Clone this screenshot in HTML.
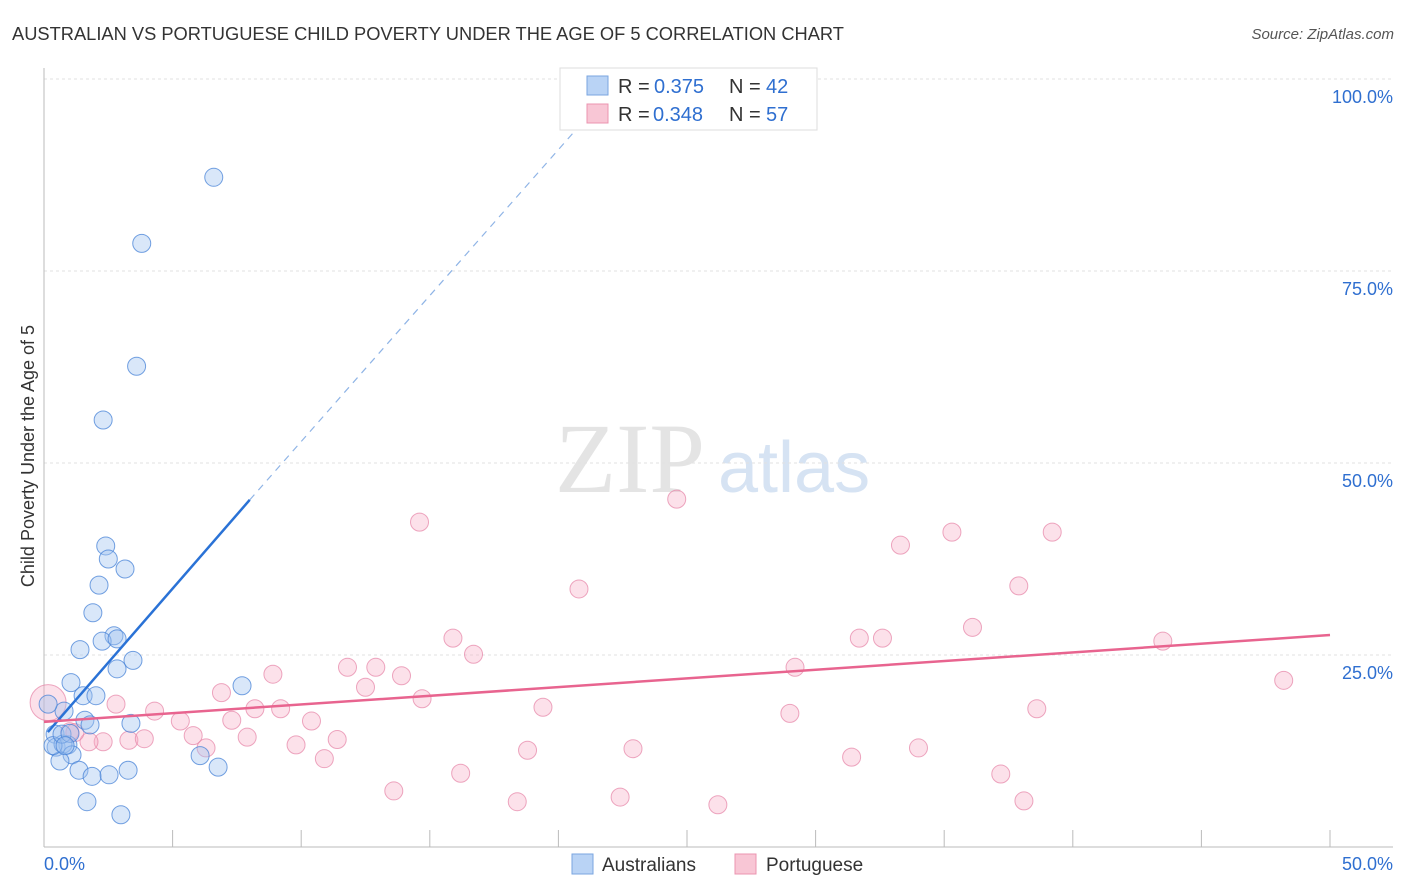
<!DOCTYPE html>
<html><head><meta charset="utf-8">
<style>
body{margin:0;background:#fff;font-family:"Liberation Sans",sans-serif;}
svg{display:block}
</style></head>
<body>
<svg id="chart" width="1406" height="892" xmlns="http://www.w3.org/2000/svg">
<text x="12" y="40" font-size="18.3" fill="#333">AUSTRALIAN VS PORTUGUESE CHILD POVERTY UNDER THE AGE OF 5 CORRELATION CHART</text>
<text x="1394" y="39" font-size="15" fill="#555" font-style="italic" text-anchor="end">Source: ZipAtlas.com</text>
<text x="0" y="0" transform="translate(34,456) rotate(-90)" font-size="18" fill="#333" text-anchor="middle">Child Poverty Under the Age of 5</text>
<text x="555" y="492" font-size="100" fill="#e4e4e4" font-family="Liberation Serif,serif">ZIP</text>
<text x="718" y="492" font-size="72" fill="#d6e3f3">atlas</text>
<g id="grid"></g><g id="axes"></g><g id="pts"></g><g id="lines"></g>
<g>
<rect x="560" y="68" width="257" height="62" fill="#fff" stroke="#ddd"/>
<rect x="587" y="76" width="21" height="19" fill="#b9d3f5" stroke="#7aa6e0"/>
<rect x="587" y="104" width="21" height="19" fill="#f8c6d5" stroke="#eb94b0"/>
<text x="618" y="93" font-size="20" fill="#333">R =</text><text x="654" y="93" font-size="20" fill="#2f6fd0">0.375</text>
<text x="729" y="93" font-size="20" fill="#333">N =</text><text x="766" y="93" font-size="20" fill="#2f6fd0">42</text>
<text x="618" y="121" font-size="20" fill="#333">R =</text><text x="653" y="121" font-size="20" fill="#2f6fd0">0.348</text>
<text x="729" y="121" font-size="20" fill="#333">N =</text><text x="766" y="121" font-size="20" fill="#2f6fd0">57</text>
</g>
<g>
<rect x="572" y="854" width="21" height="20" fill="#b9d3f5" stroke="#7aa6e0"/>
<text x="602" y="871" font-size="19" fill="#333">Australians</text>
<rect x="735" y="854" width="21" height="20" fill="#f8c6d5" stroke="#eb94b0"/>
<text x="766" y="871" font-size="19" fill="#333">Portuguese</text>
</g>
</svg>
<script>
const yTicks=[25,50,75,100];
const yTickLabels=["25.0%","50.0%","75.0%","100.0%"];
const xTicks=[0,5,10,15,20,25,30,35,40,45,50];
const ausX=[6.6,3.8,3.6,2.3,2.4,2.5,3.150,2.14,1.9,2.72,2.26,2.84,1.4,3.46,2.84,1.05,1.52,2.02,7.7,0.78,0.16,1.59,1.79,3.38,0.43,0.47,0.93,0.74,1.09,0.62,1.36,1.87,2.53,3.27,6.07,6.77,1.67,2.99,0.35,0.70,1.01,0.82];
const ausY=[87.2,78.6,62.6,55.6,39.2,37.5,36.2,34.1,30.5,27.5,26.8,27.1,25.7,24.3,23.2,21.4,19.7,19.7,21.0,17.7,18.6,16.5,15.9,16.1,14.7,13.0,13.3,13.4,12.0,11.2,10.0,9.2,9.4,10.0,11.9,10.4,5.9,4.2,13.2,14.7,14.8,13.2];
const porX=[0.16,14.6,24.6,20.8,33.3,35.3,39.2,37.9,36.1,15.9,16.7,31.7,32.6,43.5,48.2,8.9,11.8,12.9,13.9,12.5,6.9,14.7,2.8,4.3,8.2,9.2,5.3,10.4,19.4,29.0,38.6,29.2,5.8,7.3,7.9,11.4,6.3,9.8,10.9,3.3,3.9,2.3,1.75,1.0,18.8,22.9,34.0,37.2,16.2,31.4,13.6,18.4,22.4,26.2,38.1,1.2];
const porY=[18.8,42.3,45.3,33.6,39.3,41.0,41.0,34.0,28.6,27.2,25.1,27.2,27.2,26.8,21.7,22.5,23.4,23.4,22.3,20.8,20.1,19.3,18.6,17.7,18.0,18.0,16.4,16.4,18.2,17.4,18.0,23.4,14.5,16.5,14.3,14.0,12.9,13.3,11.5,13.9,14.1,13.7,13.7,15.0,12.6,12.8,12.9,9.5,9.6,11.7,7.3,5.9,6.5,5.5,6.0,14.9];
const ausLine=[0.15,8.0,21.0];
const ausLineY=[14.97,45.2,94.6];
const porLine=[0,50];
const porLineY=[16.3,27.6];
const X=v=>44+v*25.72, Y=v=>847-v*7.68;
const NS="http://www.w3.org/2000/svg";
function mk(p,t,a){const e=document.createElementNS(NS,t);for(const k in a)e.setAttribute(k,a[k]);p.appendChild(e);return e;}
const gridG=document.getElementById('grid'),axesG=document.getElementById('axes'),ptsG=document.getElementById('pts'),linesG=document.getElementById('lines');
yTicks.forEach((t,i)=>{
 const g=mk(gridG,'line',{x1:44,x2:1393,y1:Y(t),y2:Y(t),stroke:'#e2e2e2','stroke-dasharray':'3,3'});
 
 
 const l=mk(axesG,'text',{x:1393,y:Y(t)+24,'font-size':18,fill:'#2f6fd0','text-anchor':'end'});l.textContent=yTickLabels[i];
 
 
});
mk(axesG,'line',{x1:44,x2:44,y1:68,y2:847,stroke:'#bbb'});
mk(axesG,'line',{x1:44,x2:1393,y1:847,y2:847,stroke:'#bbb'});
xTicks.forEach(t=>{const e=mk(axesG,'line',{x1:X(t),x2:X(t),y1:830,y2:847,stroke:'#bbb'});
 
 });
let a=mk(axesG,'text',{x:44,y:870,'font-size':18,fill:'#2f6fd0'});a.textContent='0.0%';


a=mk(axesG,'text',{x:1393,y:870,'font-size':18,fill:'#2f6fd0','text-anchor':'end'});a.textContent='50.0%';


porX.forEach((x,i)=>{const c=mk(ptsG,'circle',{cx:X(x),cy:Y(porY[i]),r:i==0?18:9,fill:'rgba(245,170,195,0.35)',stroke:'rgba(230,130,165,0.7)','stroke-width':1});
 
 });
ausX.forEach((x,i)=>{const c=mk(ptsG,'circle',{cx:X(x),cy:Y(ausY[i]),r:9,fill:'rgba(160,195,240,0.4)',stroke:'rgba(70,130,215,0.75)','stroke-width':1});
 
 });
let ln=mk(linesG,'line',{x1:X(ausLine[0]),y1:Y(ausLineY[0]),x2:X(ausLine[1]),y2:Y(ausLineY[1]),stroke:'#2a72d6','stroke-width':2.5});


ln=mk(linesG,'line',{x1:X(ausLine[1]),y1:Y(ausLineY[1]),x2:X(ausLine[2]),y2:Y(ausLineY[2]),stroke:'#8fb4e6','stroke-width':1.2,'stroke-dasharray':'7,6'});


ln=mk(linesG,'line',{x1:X(porLine[0]),y1:Y(porLineY[0]),x2:X(porLine[1]),y2:Y(porLineY[1]),stroke:'#e8648f','stroke-width':2.5});


</script>
</body></html>
